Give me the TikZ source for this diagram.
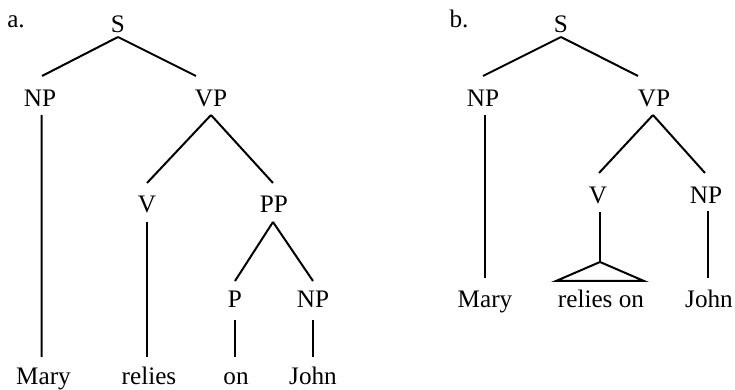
\documentclass[tikz,border=0pt]{standalone}
\usepackage{fontspec}
\setmainfont{Liberation Serif}
\usetikzlibrary{calc}
\begin{document}
\begin{tikzpicture}[x=0.5pt,y=-0.5pt,
  lab/.style={anchor=base,inner sep=0pt,font=\fontsize{12.6}{15}\selectfont},
  br/.style={line width=1pt,line join=miter}]
\useasboundingbox (0,0) rectangle (735,390);
% tree a
\node[lab] (la) at (16,28) {a.};
\node[lab] (Sa) at (118,33) {S};
\node[lab] (NPa) at (40,107) {NP};
\node[lab] (VPa) at (211,107) {VP};
\node[lab] (Va) at (147,213) {V};
\node[lab] (PPa) at (274,213) {PP};
\node[lab] (Pa) at (235,307) {P};
\node[lab] (NPa2) at (313,307) {NP};
\node[lab] (Marya) at (43.5,385) {Mary};
\node[lab] (reliesa) at (149,385) {relies};
\node[lab] (ona) at (236,385) {on};
\node[lab] (Johna) at (313,385) {John};
\draw[br] ($(Sa.base)+(0,4)$) -- ($(NPa.base)+(2,-31)$);
\draw[br] ($(Sa.base)+(0,4)$) -- ($(VPa.base)+(-15,-31)$);
\draw[br] ($(NPa.base)+(1.7,8)$) -- ($(Marya.base)+(-1.8,-28)$);
\draw[br] ($(VPa.base)+(0,8)$) -- ($(Va.base)+(0,-30)$);
\draw[br] ($(VPa.base)+(0,8)$) -- ($(PPa.base)+(-1,-30)$);
\draw[br] ($(Va.base)+(0,9)$) -- ($(reliesa.base)+(-2,-28)$);
\draw[br] ($(PPa.base)+(-1,9)$) -- ($(Pa.base)+(0,-26)$);
\draw[br] ($(PPa.base)+(-1,9)$) -- ($(NPa2.base)+(0,-26)$);
\draw[br] ($(Pa.base)+(0,13)$) -- ($(ona.base)+(-1,-28)$);
\draw[br] ($(NPa2.base)+(0,13)$) -- ($(Johna.base)+(0,-28)$);
% tree b
\node[lab] (lb) at (459,28) {b.};
\node[lab] (Sb) at (561,33) {S};
\node[lab] (NPb) at (483,107) {NP};
\node[lab] (VPb) at (654,107) {VP};
\node[lab] (Vb) at (598,204) {V};
\node[lab] (NPb2) at (706,204) {NP};
\node[lab] (Maryb) at (485,307) {Mary};
\node[lab] (reliesb) at (601,307) {relies on};
\node[lab] (Johnb) at (709,307) {John};
\draw[br] ($(Sb.base)+(0,4)$) -- ($(NPb.base)+(0,-31)$);
\draw[br] ($(Sb.base)+(0,4)$) -- ($(VPb.base)+(-16,-31)$);
\draw[br] ($(NPb.base)+(2,8)$) -- ($(Maryb.base)+(0,-29)$);
\draw[br] ($(VPb.base)+(-1,8)$) -- ($(Vb.base)+(1,-31)$);
\draw[br] ($(VPb.base)+(-1,8)$) -- ($(NPb2.base)+(-1,-31)$);
\coordinate (apex) at ($(reliesb.base)+(-1,-45)$);
\draw[br] ($(Vb.base)+(2,8)$) -- (apex);
\draw[br] (apex) -- ($(reliesb.base)+(-45,-26)$) -- ($(reliesb.base)+(43,-26)$) -- cycle;
\draw[br] ($(NPb2.base)+(2,7)$) -- ($(Johnb.base)+(-1,-29)$);
\end{tikzpicture}
\end{document}
